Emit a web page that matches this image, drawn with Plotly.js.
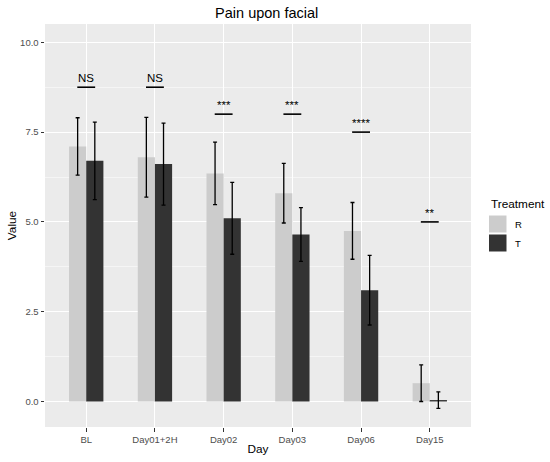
<!DOCTYPE html>
<html>
<head>
<meta charset="utf-8">
<script src="https://cdn.plot.ly/plotly-3.0.1.min.js"></script>
<style>html,body{margin:0;padding:0;background:#fff;}#chart{width:550px;height:462px;}</style>
</head>
<body>
<div id="chart"></div>
<script>
// Data
const days = ["BL", "Day01+2H", "Day02", "Day03", "Day06", "Day15"];
const valuesR = [7.10, 6.80, 6.35, 5.80, 4.75, 0.51];
const errorsR = [0.80, 1.11, 0.87, 0.83, 0.79, 0.51];
const valuesT = [6.70, 6.61, 5.10, 4.65, 3.10, 0.04];
const errorsT = [1.08, 1.14, 1.00, 0.75, 0.97, 0.23];
const sigLevels = [8.75, 8.75, 8.0, 8.0, 7.5, 5.0];
const sigLabels = ["NS", "NS", "***", "***", "****", "**"];
const yTicks = [0, 2.5, 5, 7.5, 10];
const yTickLabels = ["0.0", "2.5", "5.0", "7.5", "10.0"];
const legendNames = ["R", "T"];

const colR = "#CCCCCC", colT = "#333333";
const font = "Liberation Sans, Arial, sans-serif";

const traces = [
  {type: "bar", name: legendNames[0], x: days, y: valuesR, marker: {color: colR, line: {width: 0}},
   error_y: {type: "data", array: errorsR, visible: true, color: "#000", thickness: 1.3, width: 2}},
  {type: "bar", name: legendNames[1], x: days, y: valuesT, marker: {color: colT, line: {width: 0}},
   error_y: {type: "data", array: errorsT, visible: true, color: "#000", thickness: 1.3, width: 2}}
];

const shapes = [];
const annotations = [];
sigLevels.forEach((lv, i) => {
  shapes.push({type: "line", xref: "x", yref: "y", x0: i - 0.13, x1: i + 0.13, y0: lv, y1: lv,
               line: {color: "#000", width: 1.6}});
  annotations.push({xref: "x", yref: "y", x: i, y: lv, text: sigLabels[i], showarrow: false,
                    yanchor: "bottom", yshift: 1, font: {family: font, size: 11.5, color: "#000"}});
});

// Manual ggplot-style legend
const L = 45, R = 471, T = 24, B = 427;
const px = v => (v - L) / (R - L);
const py = v => (B - v) / (B - T);
const keyCols = [colR, colT];
const keyTops = [215.5, 234.5];
keyCols.forEach((c, k) => {
  shapes.push({type: "rect", xref: "paper", yref: "paper", x0: px(489), x1: px(506.5),
               y0: py(keyTops[k] + 17), y1: py(keyTops[k]), fillcolor: c, line: {width: 0}});
  annotations.push({xref: "paper", yref: "paper", x: px(512.5), y: py(keyTops[k] + 8.5), xanchor: "left",
                    yanchor: "middle", text: legendNames[k], showarrow: false,
                    font: {family: font, size: 9.5, color: "#000"}});
});
annotations.push({xref: "paper", yref: "paper", x: px(489), y: py(204), xanchor: "left", yanchor: "middle",
                  text: "Treatment", showarrow: false, font: {family: font, size: 11.8, color: "#000"}});

const layout = {
  width: 550, height: 462,
  margin: {l: L, r: 550 - R, t: T, b: 462 - B, pad: 0},
  paper_bgcolor: "#FFFFFF", plot_bgcolor: "#EBEBEB",
  showlegend: false,
  barmode: "group", bargap: 0.5, bargroupgap: 0,
  title: {text: "Pain upon facial", xref: "container", x: 266.7 / 550, xanchor: "center",
          yref: "container", y: 1 - 12.5 / 462, yanchor: "middle",
          font: {family: font, size: 14.5, color: "#000"}},
  xaxis: {type: "category", range: [-0.6, 5.6], showgrid: true, gridcolor: "#FFFFFF", gridwidth: 1.1,
          zeroline: false, showline: false, ticks: "outside", ticklen: 3.5, tickwidth: 1.1, tickcolor: "#333333",
          tickfont: {family: font, size: 9.5, color: "#4D4D4D"}, automargin: false,
          title: {text: "Day", standoff: 0, font: {family: font, size: 11.8, color: "#000"}}},
  yaxis: {range: [-0.71, 10.51], tickvals: yTicks, ticktext: yTickLabels, showgrid: true,
          gridcolor: "#FFFFFF", gridwidth: 1.1, zeroline: false, showline: false,
          ticks: "outside", ticklen: 3.5, tickwidth: 1.1, tickcolor: "#333333",
          tickfont: {family: font, size: 9.5, color: "#4D4D4D"}, automargin: false,
          minor: {dtick: 1.25, tick0: 0, showgrid: true, gridcolor: "#FFFFFF", gridwidth: 0.5, ticks: ""},
          title: {text: "Value", standoff: 0, font: {family: font, size: 11.8, color: "#000"}}},
  shapes: shapes,
  annotations: annotations
};

Plotly.newPlot("chart", traces, layout, {displayModeBar: false, staticPlot: true});
</script>
</body>
</html>
